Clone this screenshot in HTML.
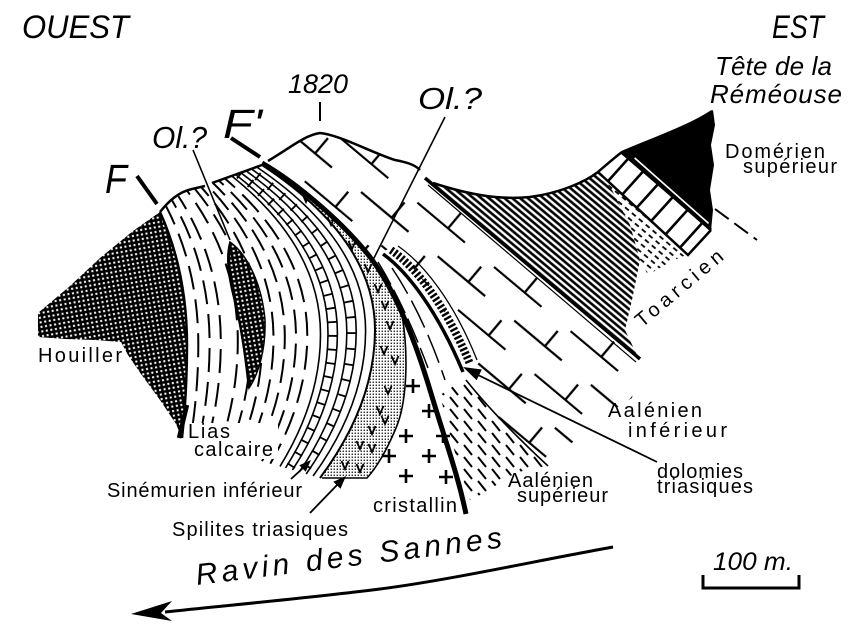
<!DOCTYPE html>
<html>
<head>
<meta charset="utf-8">
<style>
  html, body { margin: 0; padding: 0; background: #fff; }
  body { width: 856px; height: 631px; overflow: hidden; }
  svg { display: block; }
  text { font-family: "Liberation Sans", "DejaVu Sans", sans-serif; fill: #000; }
  .it { font-style: italic; }
  .lab { font-size: 20px; }
</style>
</head>
<body>
<svg width="856" height="631" viewBox="0 0 856 631" xmlns="http://www.w3.org/2000/svg">
  <defs>
    <pattern id="hou" width="4.6" height="4.6" patternUnits="userSpaceOnUse" patternTransform="rotate(-10)">
      <rect width="4.6" height="4.6" fill="#000"/>
      <rect x="1.5" y="1.5" width="2" height="2" fill="#fff"/>
    </pattern>
    <pattern id="hatch" width="10" height="5" patternUnits="userSpaceOnUse" patternTransform="rotate(40)">
      <line x1="0" y1="2.5" x2="10" y2="2.5" stroke="#000" stroke-width="2.6"/>
    </pattern>
    <pattern id="tdash" width="9" height="6" patternUnits="userSpaceOnUse" patternTransform="rotate(40)">
      <line x1="0" y1="3" x2="5" y2="3" stroke="#000" stroke-width="1.8"/>
    </pattern>
    <pattern id="dots" width="3" height="3" patternUnits="userSpaceOnUse">
      <rect x="0.6" y="0.6" width="1.3" height="1.3" fill="#000"/>
    </pattern>
    <pattern id="brick" width="100" height="56" patternUnits="userSpaceOnUse" patternTransform="rotate(40)">
      <path d="M0,27 H62 M40,27 V7 M50,55 H100 M0,55 H12 M90,55 V35" stroke="#000" stroke-width="2.3" fill="none"/>
    </pattern>
    <pattern id="adash" width="14" height="12" patternUnits="userSpaceOnUse">
      <line x1="2" y1="1" x2="10" y2="11" stroke="#000" stroke-width="2"/>
    </pattern>
    <clipPath id="ladderClip">
      <polygon points="622,152 711,230 688,255 598,172"/>
    </clipPath>
  </defs>

  <!-- Houiller -->
  <path d="M38,313 L70,286 L100,258 L133,231 L160,212 Q187,271.9 187,345 Q187,391.5 182,438 L176,424 L160,400 L141,374 L128,355 L121,342 L95,340 L65,339 L38,337 Z" fill="url(#hou)"/>

  <!-- Toarcien hatch -->
  <path d="M433,183 C470,195 500,200 530,197 C560,193 585,182 598,172 L612,190 L630,225 L640,260 L632,300 L625,330 L638,357 Z" fill="url(#hatch)"/>
  <path d="M598,172 L688,254 L670,262 L648,275 L640,260 L630,225 L612,190 Z" fill="url(#tdash)"/>

  <!-- Brick block -->
  <path d="M270,160 C290,148 305,135 320,133 C340,135 370,152 395,160 C405,162 415,165 422,172 L433,183 L640,358 L632,398 L600,418 L575,440 L548,466 C520,440 490,410 466,380 L471,366 C446,306 416,266 391,248 L370,257 C345,225 300,185 262,163 Z" fill="url(#brick)"/>

  <!-- Spilites dotted band -->
  <path d="M262,165 Q375,239.3 375,330 Q375,404 320,478 L367,478 C376,468 386,452 396,428 C408,400 408,350 402,315 L370,257 C345,225 300,185 262,163 Z" fill="url(#dots)"/>

  <!-- Aalenien sup dashes -->
  <path d="M440,395 L466,378 L490,410 L520,440 L548,466 L525,470 L505,478 L490,490 L470,500 L460,470 L450,435 Z" fill="url(#adash)"/>

  <!-- Lias arcs (dashed) -->
  <g fill="none" stroke="#000" stroke-width="2" stroke-dasharray="24 10">
    <path d="M166.1,206.3 Q198.3,268.3 198.3,344.1 Q198.3,392.3 190.3,440.4" stroke-dashoffset="4"/>
    <path d="M172.2,200.6 Q209.6,264.8 209.6,343.2 Q209.6,393 198.6,442.8" stroke-dashoffset="16"/>
    <path d="M178.4,196.2 Q220.8,261.9 220.8,342.3 Q220.8,393.8 206.8,445.2" stroke-dashoffset="9"/>
    <path d="M187.5,191.3 Q237.8,258.7 237.8,341 Q237.8,394.9 219.3,448.8" stroke-dashoffset="20"/>
    <path d="M194.7,188.6 Q250.9,256.7 250.9,339.9 Q250.9,395.8 228.9,451.6" stroke-dashoffset="2"/>
    <path d="M200.8,186.7 Q262.2,255.3 262.2,339 Q262.2,396.5 237.2,454" stroke-dashoffset="12"/>
    <path d="M206.9,184.9 Q273.5,253.8 273.5,338.1 Q273.5,397.3 245.5,456.4" stroke-dashoffset="25"/>
    <path d="M213,183 Q284.8,252.4 284.8,337.2 Q284.8,398 253.8,458.8" stroke-dashoffset="7"/>
    <path d="M219.2,180.9 Q296,250.8 296,336.3 Q296,398.8 262,461.2" stroke-dashoffset="18"/>
    <path d="M225.3,178.9 Q307.3,249.3 307.3,335.4 Q307.3,399.5 270.3,463.6" stroke-dashoffset="11"/>
  </g>

  <!-- Sinemurien arcs -->
  <g fill="none" stroke="#000" stroke-width="1.6">
    <path d="M232.4,176.5 Q320.5,247.5 320.5,334.4 Q320.5,400.4 280,466.4"/>
    <path d="M236.5,175.2 Q328,246.7 328,333.8 Q328,400.9 285.5,468"/>
    <path d="M241.6,173.3 Q337.4,245.2 337.4,333 Q337.4,401.5 292.4,470"/>
    <path d="M246.7,171.3 Q346.8,243.8 346.8,332.3 Q346.8,402.2 299.3,472"/>
    <path d="M251.8,169.2 Q356.2,242.2 356.2,331.5 Q356.2,402.8 306.2,474"/>
    <path d="M256.9,167.1 Q365.6,240.7 365.6,330.8 Q365.6,403.4 313.1,476"/>
    <path d="M262,165 Q375,239.3 375,330 Q375,404 320,478" stroke-width="2"/>
  </g>
  <g fill="none" stroke="#000">
    <path d="M239,174.3 Q332.7,245.9 332.7,333.4 Q332.7,401.2 289,469" stroke-width="9" stroke-dasharray="1.8 12"/>
    <path d="M249.2,170.2 Q351.5,243 351.5,331.9 Q351.5,402.5 302.7,473" stroke-width="9" stroke-dasharray="1.8 14" stroke-dashoffset="6"/>
  </g>

  <!-- Houiller edge -->
  <path d="M160,212 Q187,271.9 187,345 Q187,391.5 182,438" fill="none" stroke="#000" stroke-width="2.5"/>
  <path d="M187,405 L179,438" stroke="#000" stroke-width="4.5"/>

  <!-- Lens (Ol.?) -->
  <path d="M230,242 C248,255 262,285 265,320 C266,350 258,375 249,388 C246,360 240,320 233,295 C228,275 226,255 230,242 Z" fill="url(#hou)" stroke="#000" stroke-width="1.5"/>
  <path d="M230,244 C227,262 231,285 236,305 C242,330 246,360 249,388" fill="none" stroke="#000" stroke-width="2.5"/>

  <!-- Domerien -->
  <path d="M620,153 C650,140 690,126 713,110 L715,125 L711,145 L714,165 L710,190 L713,210 L711,231 Z" fill="#000"/>
  <line x1="634.6" y1="157.9" x2="708.6" y2="223.4" stroke="#fff" stroke-width="1.6"/>

  <!-- Ladder (Toarcien) -->
  <line x1="610" y1="162" x2="699.5" y2="242.5" stroke="#000" stroke-width="32" stroke-dasharray="2.6 17" stroke-dashoffset="-10" clip-path="url(#ladderClip)"/>
  <path d="M622,152 L711,230" stroke="#000" stroke-width="3"/>
  <path d="M598,172 L688,255 L711,230" fill="none" stroke="#000" stroke-width="2.5"/>
  <path d="M715,209 L757,240" stroke="#000" stroke-width="2" stroke-dasharray="17 7"/>

  <!-- Toarcien base -->
  <path d="M425,178 L640,359" stroke="#000" stroke-width="3.5"/>
  <path d="M428,185 L636,362" stroke="#000" stroke-width="1.2"/>

  <!-- Profiles -->
  <g fill="none" stroke="#000" stroke-width="2.5">
    <path d="M160,212 C168,202 178,192 192,189 L205,186"/>
    <path d="M212,183 L262,165"/>
    <path d="M268,161 C290,148 305,135 320,133 C340,135 370,152 395,160 C405,162 414,164 420,170"/>
    <path d="M433,183 C470,195 500,200 530,197 C560,193 585,182 598,172 C605,166 614,158 622,152 C650,140 690,126 712,111"/>
  </g>

  <!-- T1 main thick line -->
  <path d="M262,163 C300,185 345,225 370,257 C395,290 415,340 430,390 C445,440 458,475 466,514" fill="none" stroke="#000" stroke-width="5"/>
  <path d="M402,315 C408,350 408,400 396,428 C386,452 376,468 367,478 L322,478" fill="none" stroke="#000" stroke-width="1.6"/>

  <!-- Aalenien sup lines between T1 and D1 -->
  <g fill="none" stroke="#000" stroke-width="1.5">
    <path d="M378,262 C395,290 412,325 428,368" stroke-dasharray="26 6"/>
    <path d="M392,268 C412,298 430,335 445,380" stroke-dasharray="30 8"/>
  </g>

  <!-- Dolomies -->
  <path d="M383,254 C408,272 438,312 463,372" fill="none" stroke="#000" stroke-width="3.5"/>
  <path d="M391,250 C416,267 446,306 470,364" fill="none" stroke="#000" stroke-width="8" stroke-dasharray="2.4 2"/>
  <path d="M398,246 C424,264 454,302 477,360" fill="none" stroke="#000" stroke-width="1.3"/>
  <path d="M466,380 C490,410 520,440 548,466" fill="none" stroke="#000" stroke-width="1.6"/>

  <!-- Ol.? lines, F marks, 1820 tick -->
  <line x1="445" y1="117" x2="373" y2="260" stroke="#000" stroke-width="1.6"/>
  <line x1="193" y1="150" x2="230" y2="240" stroke="#000" stroke-width="1.6"/>
  <line x1="137" y1="176" x2="157" y2="204" stroke="#000" stroke-width="4"/>
  <line x1="231" y1="138" x2="260" y2="157" stroke="#000" stroke-width="4"/>
  <line x1="320" y1="102" x2="320" y2="121" stroke="#000" stroke-width="2"/>

  <!-- V marks -->
  <g fill="none" stroke="#000" stroke-width="1.8">
    <path d="M302.5,194 L306,202 L309.5,194"/>
    <path d="M327.5,217 L331,225 L334.5,217"/>
    <path d="M348.5,241 L352,249 L355.5,241"/>
    <path d="M364.5,264 L368,272 L371.5,264"/>
    <path d="M374.5,284 L378,292 L381.5,284"/>
    <path d="M381.5,301 L385,309 L388.5,301"/>
    <path d="M386.5,321 L390,329 L393.5,321"/>
    <path d="M380.5,346 L384,354 L387.5,346"/>
    <path d="M391.5,356 L395,364 L398.5,356"/>
    <path d="M384.5,386 L388,394 L391.5,386"/>
    <path d="M376.5,406 L380,414 L383.5,406"/>
    <path d="M368.5,426 L372,434 L375.5,426"/>
    <path d="M381.5,416 L385,424 L388.5,416"/>
    <path d="M356.5,441 L360,449 L363.5,441"/>
    <path d="M368.5,444 L372,452 L375.5,444"/>
    <path d="M341.5,461 L345,469 L348.5,461"/>
    <path d="M356.5,464 L360,472 L363.5,464"/>
  </g>

  <!-- Cristallin plus marks -->
  <g fill="none" stroke="#000" stroke-width="2.6">
    <path d="M406,386 H420 M413,379 V393"/>
    <path d="M422,411 H436 M429,404 V418"/>
    <path d="M399,436 H413 M406,429 V443"/>
    <path d="M436,436 H450 M443,429 V443"/>
    <path d="M422,456 H436 M429,449 V463"/>
    <path d="M382,456 H396 M389,449 V463"/>
    <path d="M399,476 H413 M406,469 V483"/>
    <path d="M439,477 H453 M446,470 V484"/>
  </g>

  <!-- Arrows -->
  <line x1="657" y1="462" x2="478" y2="375" stroke="#000" stroke-width="1.8"/>
  <polygon points="463,367 481.8,369.5 476.6,380.3" fill="#000"/>
  <line x1="310" y1="513" x2="338" y2="484" stroke="#000" stroke-width="1.8"/>
  <polygon points="346,476 340.5,488.8 333.3,481.8" fill="#000"/>
  <line x1="291" y1="479" x2="303" y2="468" stroke="#000" stroke-width="1.8"/>
  <polygon points="311,460 305.7,471.7 299.3,465.3" fill="#000"/>
  <path d="M613,547 C540,560 450,580 380,589 C300,599 220,606 165,612" fill="none" stroke="#000" stroke-width="3"/>
  <polygon points="131,614 172,601 161,613 172,621" fill="#000"/>

  <!-- Scale bar -->
  <path d="M703,575 L703,588 L799,588 L799,575" fill="none" stroke="#000" stroke-width="3"/>

  <!-- mask behind Lias calcaire -->
  <rect x="188" y="423" width="90" height="36" fill="#fff"/>

  <!-- Texts -->
  <text class="it" x="22" y="38" font-size="32" textLength="107" lengthAdjust="spacingAndGlyphs">OUEST</text>
  <text class="it" x="772" y="38" font-size="32" textLength="52" lengthAdjust="spacingAndGlyphs">EST</text>
  <text class="it" x="715" y="75" font-size="26" textLength="117">Tête de la</text>
  <text class="it" x="710" y="103" font-size="26" textLength="132">Réméouse</text>
  <text class="it" x="288" y="93" font-size="27" textLength="60" lengthAdjust="spacingAndGlyphs">1820</text>
  <text class="it" x="152" y="148" font-size="31" textLength="55" lengthAdjust="spacingAndGlyphs">Ol.?</text>
  <text class="it" x="418" y="109" font-size="31" textLength="64" lengthAdjust="spacingAndGlyphs">Ol.?</text>
  <text class="it" x="223" y="138" font-size="41" textLength="39" lengthAdjust="spacingAndGlyphs">F'</text>
  <text class="it" x="105" y="193" font-size="41" textLength="22" lengthAdjust="spacingAndGlyphs">F</text>

  <text class="lab" x="725" y="158" textLength="100">Domérien</text>
  <text class="lab" x="743" y="173" textLength="94">supérieur</text>
  <text class="lab" transform="translate(642,328) rotate(-40)" x="0" y="0" font-size="21" textLength="108">Toarcien</text>
  <text class="lab" x="38" y="362" textLength="84">Houiller</text>
  <text class="lab" x="188" y="438" font-size="19" textLength="42">Lias</text>
  <text class="lab" x="194" y="456" font-size="19" textLength="79">calcaire</text>
  <text class="lab" x="107" y="497" font-size="19" textLength="195">Sinémurien inférieur</text>
  <text class="lab" x="172" y="536" font-size="19" textLength="176">Spilites triasiques</text>
  <text class="lab" x="373" y="512" font-size="19" textLength="84">cristallin</text>
  <text class="lab" x="508" y="487" font-size="19" textLength="85">Aalénien</text>
  <text class="lab" x="517" y="502" font-size="19" textLength="91">supérieur</text>
  <text class="lab" x="608" y="417" textLength="94">Aalénien</text>
  <text class="lab" x="628" y="437" textLength="99">inférieur</text>
  <text class="lab" x="657" y="478" font-size="19" textLength="86">dolomies</text>
  <text class="lab" x="657" y="493" font-size="19" textLength="96">triasiques</text>

  <text class="it" transform="translate(197,585) rotate(-7)" x="0" y="0" font-size="30" textLength="308">Ravin des Sannes</text>
  <text class="it" x="713" y="570" font-size="25" textLength="80" lengthAdjust="spacingAndGlyphs">100 m.</text>
</svg>
</body>
</html>
